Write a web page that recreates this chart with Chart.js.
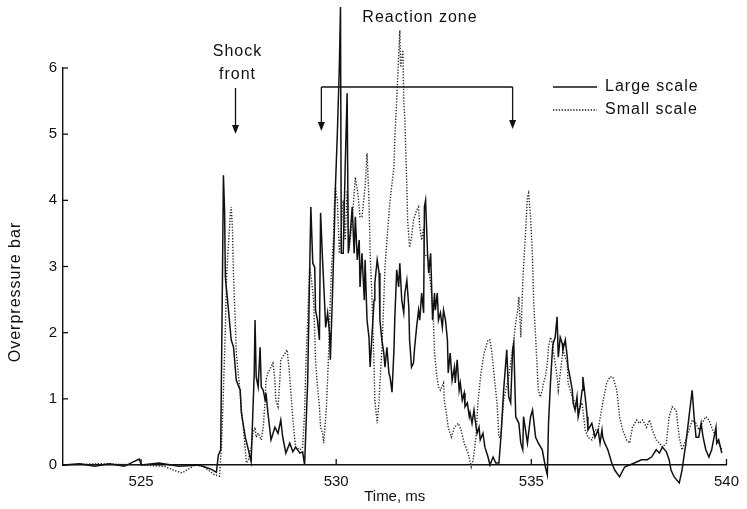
<!DOCTYPE html>
<html>
<head>
<meta charset="utf-8">
<script src="https://cdn.jsdelivr.net/npm/chart.js@4/dist/chart.umd.min.js"></script>
<style>
  html, body { margin: 0; padding: 0; background: #fff; }
</style>
</head>
<body>
<canvas id="chart" width="747" height="509"></canvas>
<script>
const seriesNames = ["Large scale", "Small scale"];
const xTicks = [525, 530, 535, 540];
const yTicks = [0, 1, 2, 3, 4, 5, 6];

// [time ms, overpressure bar]
const largeScale = [
  [523.00,0],[523.43,0.02],[523.81,-0.02],[524.19,0.02],[524.57,-0.02],[524.95,0.09],[525.01,0],
  [525.46,0.03],[525.97,-0.02],[526.48,0],[526.78,-0.06],[526.93,-0.11],[526.98,0.15],[527.04,0.23],
  [527.09,3.1],[527.11,4.38],[527.14,3.85],[527.16,2.84],[527.24,2.34],[527.31,1.89],[527.37,1.78],
  [527.44,1.28],[527.54,1.13],[527.57,0.79],[527.67,0.42],[527.75,0.23],[527.82,0.05],[527.90,1.39],
  [527.92,2.19],[527.95,1.33],[528.00,1.18],[528.05,1.78],[528.08,1.18],[528.13,1.13],[528.18,0.98],
  [528.20,1.09],[528.25,0.79],[528.33,0.38],[528.43,0.57],[528.51,0.48],[528.58,0.68],[528.63,0.42],
  [528.71,0.18],[528.81,0.33],[528.89,0.20],[528.96,0.27],[529.07,0.18],[529.14,0.20],[529.19,0],
  [529.27,1.28],[529.35,3.90],[529.40,3.05],[529.45,2.99],[529.47,2.34],[529.52,2.19],[529.57,1.89],
  [529.60,3.81],[529.65,3.10],[529.70,2.49],[529.73,2.08],[529.78,2.30],[529.83,1.99],[529.85,1.59],
  [529.90,2.49],[529.95,3.50],[529.98,4.20],[530.03,5.02],[530.08,6.01],[530.11,6.92],[530.13,3.20],
  [530.18,3.20],[530.23,4.50],[530.28,5.62],[530.31,3.20],[530.36,3.50],[530.41,3.90],[530.46,3.20],
  [530.49,3.75],[530.54,3.10],[530.59,3.40],[530.61,2.69],[530.66,3.20],[530.72,2.49],[530.74,3.10],
  [530.79,2.19],[530.84,1.93],[530.87,1.48],[530.92,1.99],[530.97,2.49],[530.99,2.75],[531.05,3.10],
  [531.10,2.90],[531.12,2.19],[531.17,1.89],[531.22,1.69],[531.25,1.48],[531.30,1.78],[531.35,1.39],
  [531.38,1.33],[531.43,1.10],[531.48,1.74],[531.50,2.19],[531.55,2.95],[531.60,2.69],[531.63,3.05],
  [531.68,2.49],[531.73,2.30],[531.76,2.60],[531.81,2.79],[531.86,2.39],[531.88,1.89],[531.93,1.48],
  [531.98,1.54],[532.01,1.78],[532.06,2.08],[532.11,2.34],[532.14,2.19],[532.19,2.60],[532.24,2.30],
  [532.26,3.90],[532.29,4.00],[532.34,3.20],[532.37,2.90],[532.42,3.20],[532.47,2.19],[532.52,2.60],
  [532.54,2.34],[532.59,2.60],[532.62,2.19],[532.67,2.30],[532.72,2.08],[532.75,2.34],[532.80,2.19],
  [532.85,1.89],[532.87,1.39],[532.92,1.69],[532.97,1.28],[533.03,1.48],[533.05,1.24],[533.10,1.59],
  [533.15,1.13],[533.18,1.24],[533.23,0.98],[533.28,1.09],[533.30,0.88],[533.36,0.94],[533.41,0.73],
  [533.43,0.79],[533.48,0.63],[533.53,0.83],[533.56,0.68],[533.61,0.48],[533.66,0.57],[533.69,0.38],
  [533.76,0.48],[533.81,0.27],[533.89,0.12],[533.94,0],[534.02,0.12],[534.09,0.03],[534.17,0.03],
  [534.22,0.42],[534.29,1.13],[534.37,1.74],[534.42,1.03],[534.47,0.94],[534.52,1.74],[534.55,1.84],
  [534.60,0.73],[534.68,0.63],[534.73,0.33],[534.78,0.23],[534.80,0.73],[534.90,0.33],[534.98,0.73],
  [535.03,0.83],[535.11,0.42],[535.18,0.33],[535.28,0.23],[535.36,-0.03],[535.41,-0.15],[535.44,0.63],
  [535.49,1.24],[535.54,1.74],[535.56,1.84],[535.61,1.93],[535.66,2.24],[535.69,1.63],[535.74,1.93],
  [535.79,1.84],[535.81,1.74],[535.87,1.89],[535.92,1.63],[535.94,1.48],[535.99,1.33],[536.05,1.13],
  [536.07,0.94],[536.12,0.83],[536.17,1.03],[536.20,0.73],[536.25,0.88],[536.30,1.13],[536.32,1.33],
  [536.38,1.03],[536.43,0.73],[536.45,0.53],[536.55,0.63],[536.63,0.42],[536.71,0.53],[536.76,0.33],
  [536.81,0.53],[536.83,0.42],[536.88,0.33],[536.96,0.23],[537.06,0.03],[537.14,-0.08],[537.26,-0.18],
  [537.39,-0.03],[537.64,0.03],[537.82,0.08],[537.97,0.08],[538.08,0.12],[538.20,0.23],[538.28,0.18],
  [538.36,0.27],[538.46,0.20],[538.53,0.08],[538.58,-0.08],[538.66,-0.18],[538.79,-0.27],[538.86,-0.08],
  [538.96,0.33],[539.04,0.73],[539.12,1.13],[539.17,0.73],[539.22,0.42],[539.29,0.42],[539.35,0.63],
  [539.40,0.42],[539.47,0.23],[539.55,0.12],[539.62,0.23],[539.73,0.57],[539.75,0.33],[539.80,0.38],
  [539.88,0.18]
];

const smallScale = [
  [523.00,0],[523.94,0.02],[524.95,0],[525.59,-0.02],[525.84,-0.08],[526.05,-0.12],[526.22,-0.06],
  [526.38,0],[526.60,-0.02],[526.86,-0.14],[527.01,-0.17],[527.06,0.27],[527.11,1.09],[527.16,2.08],
  [527.19,2.84],[527.24,3.35],[527.29,3.81],[527.31,3.90],[527.34,3.60],[527.37,2.84],[527.42,2.08],
  [527.44,1.69],[527.49,1.39],[527.54,1.09],[527.57,0.83],[527.62,0.57],[527.67,0.23],[527.70,0.03],
  [527.75,0.08],[527.82,0.27],[527.87,0.48],[527.92,0.57],[527.95,0.42],[528.00,0.48],[528.08,0.38],
  [528.13,0.57],[528.18,0.98],[528.20,1.28],[528.25,1.39],[528.33,1.48],[528.38,1.54],[528.43,1.28],
  [528.45,0.98],[528.51,0.88],[528.56,1.33],[528.58,1.59],[528.69,1.69],[528.74,1.74],[528.79,1.48],
  [528.84,1.09],[528.89,0.68],[528.94,0.38],[528.96,0.27],[529.07,0.23],[529.14,0.27],[529.19,0.79],
  [529.22,1.48],[529.27,2.19],[529.32,2.99],[529.37,2.79],[529.42,2.49],[529.45,1.99],[529.47,1.59],
  [529.52,1.18],[529.57,0.88],[529.60,0.57],[529.65,0.48],[529.68,0.33],[529.70,0.48],[529.75,0.88],
  [529.80,1.59],[529.83,2.19],[529.85,2.49],[529.88,2.99],[529.93,3.40],[529.95,3.90],[529.98,4.20],
  [530.03,4.00],[530.08,3.20],[530.13,3.55],[530.18,4.00],[530.23,3.40],[530.28,4.15],[530.33,3.25],
  [530.41,3.70],[530.49,4.35],[530.56,4.08],[530.61,3.75],[530.66,3.75],[530.74,4.20],[530.79,4.71],
  [530.84,4.00],[530.87,3.20],[530.92,2.49],[530.97,1.48],[530.99,0.98],[531.05,0.63],[531.10,0.98],
  [531.12,1.24],[531.17,1.74],[531.22,2.49],[531.25,2.99],[531.30,3.40],[531.38,4.00],[531.48,4.50],
  [531.50,4.91],[531.55,5.51],[531.60,6.19],[531.63,6.57],[531.65,6.01],[531.71,6.27],[531.73,5.51],
  [531.76,5.21],[531.81,4.20],[531.83,3.70],[531.88,3.29],[531.93,3.44],[531.98,3.70],[532.06,3.85],
  [532.11,3.90],[532.14,3.60],[532.19,3.40],[532.24,3.60],[532.26,3.20],[532.37,3.10],[532.39,2.90],
  [532.44,2.60],[532.49,2.19],[532.52,1.69],[532.57,1.39],[532.62,1.18],[532.67,1.13],[532.75,1.24],
  [532.77,0.98],[532.82,0.79],[532.87,0.57],[532.95,0.42],[533.03,0.57],[533.13,0.63],[533.20,0.53],
  [533.28,0.33],[533.38,0.18],[533.46,-0.03],[533.51,0.08],[533.58,0.42],[533.63,0.94],[533.71,1.39],
  [533.79,1.69],[533.89,1.89],[533.94,1.89],[533.99,1.69],[534.04,1.39],[534.12,0.94],[534.17,0.42],
  [534.22,0.42],[534.29,0.98],[534.42,1.33],[534.52,1.74],[534.60,2.15],[534.65,2.34],[534.68,2.54],
  [534.73,1.93],[534.78,2.75],[534.80,2.99],[534.85,3.50],[534.90,4.05],[534.93,4.11],[534.98,3.75],
  [535.03,3.14],[535.06,2.45],[535.11,1.93],[535.16,1.33],[535.18,1.13],[535.23,1.03],[535.28,1.13],
  [535.31,1.24],[535.36,1.33],[535.41,1.54],[535.44,1.78],[535.49,1.93],[535.54,1.84],[535.56,1.74],
  [535.61,1.54],[535.66,1.33],[535.69,1.13],[535.79,1.63],[535.81,1.74],[535.92,1.54],[535.94,1.24],
  [536.05,1.03],[536.12,0.94],[536.20,0.83],[536.30,0.94],[536.38,0.53],[536.45,0.42],[536.55,0.38],
  [536.63,0.53],[536.71,0.53],[536.83,0.94],[536.93,1.24],[537.01,1.33],[537.09,1.33],[537.19,1.13],
  [537.26,0.73],[537.34,0.53],[537.44,0.38],[537.52,0.33],[537.59,0.57],[537.70,0.68],[537.77,0.63],
  [537.85,0.68],[537.95,0.57],[538.03,0.68],[538.10,0.53],[538.20,0.38],[538.28,0.33],[538.36,0.27],
  [538.46,0.33],[538.53,0.73],[538.61,0.88],[538.71,0.83],[538.79,0.42],[538.86,0.23],[538.96,0.38],
  [539.04,0.53],[539.12,0.68],[539.22,0.63],[539.29,0.53],[539.37,0.63],[539.47,0.73],[539.55,0.68],
  [539.62,0.57],[539.73,0.42],[539.80,0.33],[539.88,0.23]
];

// where the annotations point (ms)
const shockFrontAt = 527.42;
const reactionZone = [529.62, 534.52];

const FONT = "'Liberation Sans', Arial, Helvetica, sans-serif";
const INK = "#111";

function line(ctx, x1, y1, x2, y2) {
  ctx.beginPath();
  ctx.moveTo(x1, y1);
  ctx.lineTo(x2, y2);
  ctx.stroke();
}

function arrowDown(ctx, x, y1, y2) {
  line(ctx, x, y1, x, y2 - 6);
  ctx.beginPath();
  ctx.moveTo(x - 3.5, y2 - 9);
  ctx.lineTo(x + 3.5, y2 - 9);
  ctx.lineTo(x, y2);
  ctx.closePath();
  ctx.fill();
}

const extras = {
  id: "extras",
  afterDraw(chart) {
    const { ctx, chartArea, scales } = chart;
    const x = scales.x, y = scales.y;
    ctx.save();
    ctx.strokeStyle = INK;
    ctx.fillStyle = INK;
    ctx.lineWidth = 1.3;

    // ticks point inward like the original
    yTicks.forEach(v => {
      const py = y.getPixelForValue(v);
      line(ctx, chartArea.left, py, chartArea.left + 5, py);
    });
    xTicks.forEach(v => {
      const px = x.getPixelForValue(v);
      line(ctx, px, chartArea.bottom, px, chartArea.bottom - 6);
    });

    ctx.font = "16px " + FONT;
    ctx.letterSpacing = "1px";
    ctx.textAlign = "center";
    ctx.textBaseline = "middle";

    // y axis title, set a bit low as in the print
    ctx.save();
    ctx.translate(16, 292);
    ctx.rotate(-Math.PI / 2);
    ctx.fillText("Overpressure bar", 0, 0);
    ctx.restore();

    // shock front
    const sx = x.getPixelForValue(shockFrontAt);
    ctx.fillText("Shock", sx + 2, 52);
    ctx.fillText("front", sx + 2, 75);
    arrowDown(ctx, sx, 88, 134);

    // reaction zone bracket
    const r1 = x.getPixelForValue(reactionZone[0]);
    const r2 = x.getPixelForValue(reactionZone[1]);
    ctx.fillText("Reaction zone", 420, 18);
    line(ctx, r1, 87, r2, 87);
    arrowDown(ctx, r1, 87, 131);
    arrowDown(ctx, r2, 87, 129);

    // legend
    ctx.textAlign = "left";
    ctx.lineWidth = 1.5;
    line(ctx, 553, 87, 597, 87);
    ctx.setLineDash([1.3, 1.6]);
    line(ctx, 553, 110, 597, 110);
    ctx.setLineDash([]);
    ctx.fillText(seriesNames[0], 605, 87);
    ctx.fillText(seriesNames[1], 605, 110);
    ctx.restore();
  }
};

new Chart(document.getElementById("chart"), {
  type: "line",
  data: {
    datasets: [
      {
        label: seriesNames[0],
        data: largeScale.map(p => ({ x: p[0], y: p[1] })),
        borderColor: "#111",
        borderWidth: 1.5,
        pointRadius: 0,
        tension: 0,
        clip: false
      },
      {
        label: seriesNames[1],
        data: smallScale.map(p => ({ x: p[0], y: p[1] })),
        borderColor: "#2a2a2a",
        borderWidth: 1.4,
        borderDash: [1.3, 1.6],
        pointRadius: 0,
        tension: 0,
        clip: false
      }
    ]
  },
  options: {
    responsive: false,
    animation: false,
    layout: { padding: { top: 68, right: 12, left: 0, bottom: 0 } },
    plugins: {
      legend: { display: false },
      tooltip: { enabled: false }
    },
    scales: {
      x: {
        type: "linear",
        min: 523,
        max: 540,
        afterBuildTicks: s => { s.ticks = xTicks.map(v => ({ value: v })); },
        afterFit: s => { s.height = 44; },
        grid: { drawOnChartArea: false, drawTicks: false },
        border: { display: true, color: INK, width: 1.4 },
        ticks: { padding: 8, color: INK, font: { family: FONT, size: 15 } },
        title: {
          display: true, text: "Time, ms", color: INK, padding: 0,
          font: { family: FONT, size: 15, lineHeight: 1.6 }
        }
      },
      y: {
        min: 0,
        max: 6,
        afterBuildTicks: s => { s.ticks = yTicks.map(v => ({ value: v })); },
        afterFit: s => { s.width = 63; },
        grid: { drawOnChartArea: false, drawTicks: false },
        border: { display: true, color: INK, width: 1.4 },
        ticks: { padding: 6, color: INK, font: { family: FONT, size: 15 } }
      }
    }
  },
  plugins: [extras]
});
</script>
</body>
</html>
